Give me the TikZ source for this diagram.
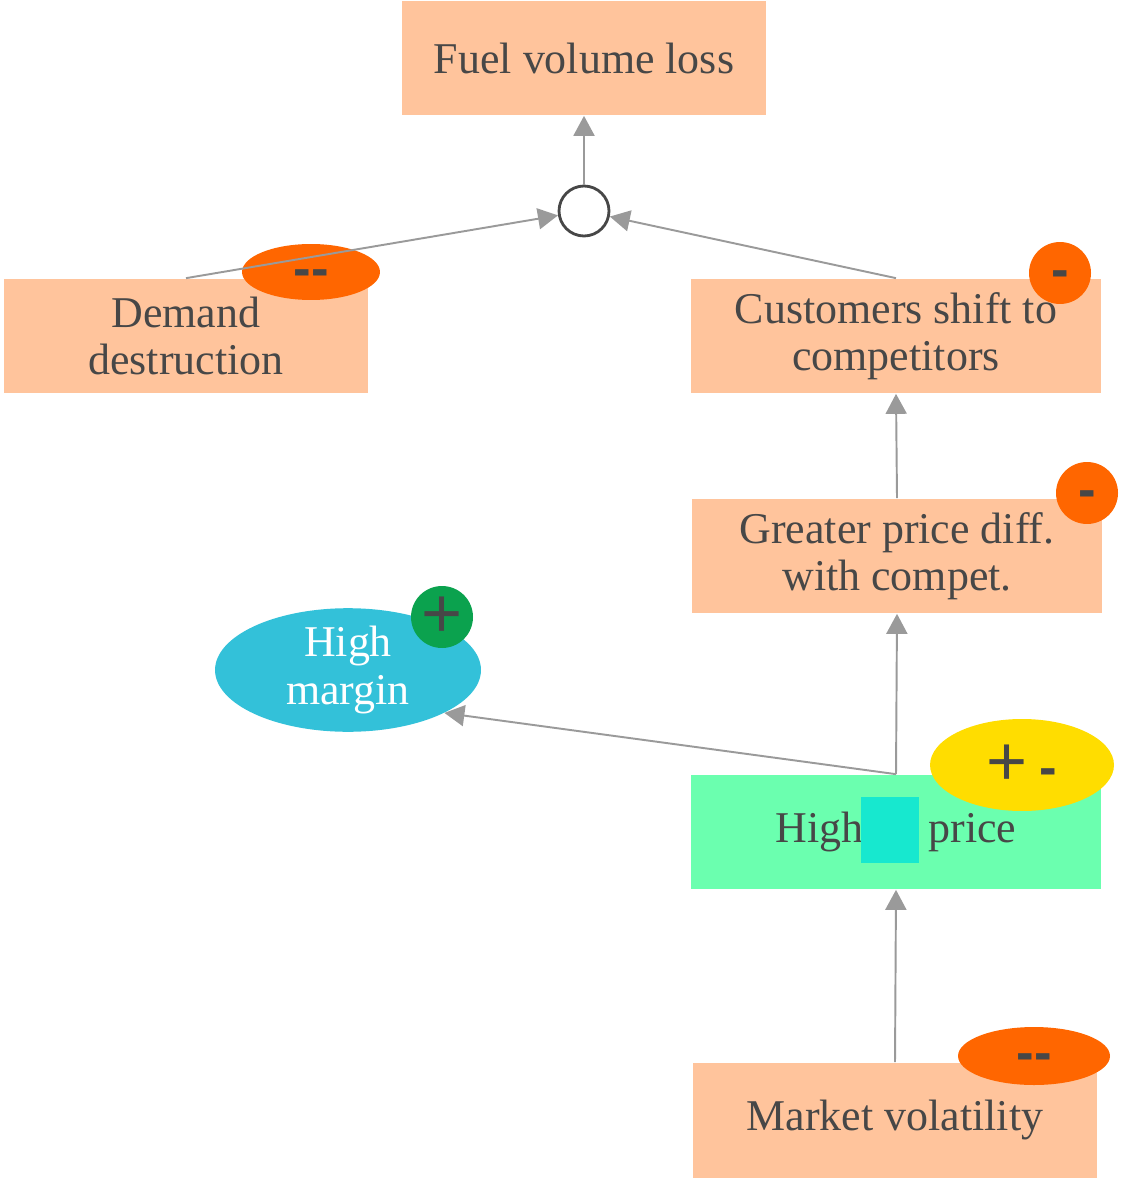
\documentclass[tikz,border=0pt]{standalone}
\usepackage{fontspec}
\setmainfont{Liberation Serif}
\newfontfamily\badgefont{Liberation Sans}
\usepackage{xcolor}
\usepackage{tikz}
\usetikzlibrary{
  arrows.meta,
  positioning,
  shapes.geometric}
\definecolor{peach}{HTML}{FFC49C}
\definecolor{mint}{HTML}{6BFFAF}
\definecolor{aqua}{HTML}{17E8CF}
\definecolor{teal}{HTML}{33C1D9}
\definecolor{hot}{HTML}{FF6600}
\definecolor{leaf}{HTML}{0BA24E}
\definecolor{sun}{HTML}{FFDD00}
\definecolor{ink}{HTML}{474747}
\definecolor{wire}{HTML}{9A9A9A}
\tikzset{every picture/.style={font issue=\fontsize{25}{27}},
         font issue/.style={execute at begin picture={#1\selectfont}},
         factor/.style={rectangle, fill=peach, text=ink, align=center,
                        minimum height=2.3cm, inner sep=0pt},
         link/.style={draw=wire, line width=1.1pt,
                      -{Triangle[length=0.4cm,width=0.42cm]}},
         badge/.style={fill=#1, text=ink, inner sep=0pt,
                       font=\badgefont\bfseries\fontsize{30}{30}\selectfont},
         dashes/.style={text height=16pt, text depth=0pt}
        }

\begin{document}
\begin{tikzpicture}[x=0.02cm, y=-0.02cm]
\useasboundingbox (0,0) rectangle (1141,1182);

%factors
\node[factor, minimum width=7.3cm] (fuel) at (584,58) {Fuel volume loss};
\node[circle, draw=ink, line width=1.6pt, fill=white, minimum size=1cm] (hub) at (584,211) {};
\node[factor, minimum width=7.3cm] (demand) at (186,336) {Demand\\destruction};
\node[factor, minimum width=8.2cm] (shift) at (896,336) {Customers shift to\\competitors};
\node[factor, minimum width=8.2cm] (diff) at (897,556) {Greater price diff.\\with compet.};
\node[ellipse, fill=teal, text=white, align=center, inner sep=0pt,
      minimum width=5.32cm, minimum height=2.32cm] (margin) at (348,670) {High\\margin};
\node[rectangle, fill=mint, text=ink, minimum width=8.2cm, minimum height=2.3cm,
      inner sep=0pt] (price) at (896,832) {High\hspace{1.3cm}price};
\node[rectangle, fill=aqua, minimum width=1.16cm, minimum height=1.32cm,
      inner sep=0pt] (gap) at (890,830) {};
\node[factor, minimum width=8.1cm] (market) at (895,1120) {Market volatility};

%signs
\node[badge=hot, dashes, ellipse, minimum width=2.76cm, minimum height=1.12cm] (sdemand) at (311,272) {-{}-};
\node[badge=hot, dashes, circle, minimum size=1.24cm] (sshift) at (1060,273) {-};
\node[badge=hot, dashes, circle, minimum size=1.24cm] (sdiff) at (1087,493) {-};
\node[badge=leaf, circle, minimum size=1.24cm] (smargin) at (442,617) {\mdseries\fontsize{40}{40}\selectfont +};
\node[badge=sun, ellipse, minimum width=3.68cm, minimum height=1.84cm] (sprice) at (1022,765) {\mdseries\fontsize{40}{40}\selectfont +\,\bfseries\fontsize{30}{30}\selectfont -};
\node[badge=hot, dashes, ellipse, minimum width=3.04cm, minimum height=1.16cm] (smarket) at (1034,1056) {-{}-};

%links
\draw[link] (hub.north) -- (fuel.south);
\draw[link] (demand.north) -- (hub);
\draw[link] (shift.north) -- (hub);
\draw[link] (diff.north) -- (shift.south);
\draw[link] (price.north) -- (diff.south);
\draw[link] (price.north) -- (margin.-24);
\draw[link] (market.north) -- (price.south);

\end{tikzpicture}
\end{document}
